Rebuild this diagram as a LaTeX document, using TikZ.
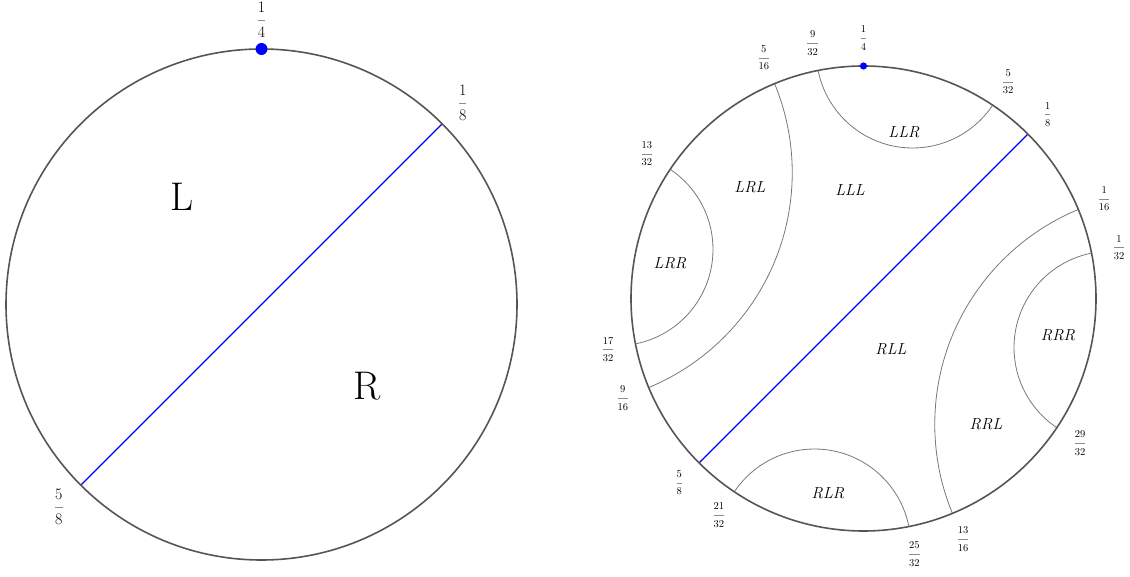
\documentclass[tikz,border=0pt]{standalone}
\usepackage{fontspec}
\usepackage{xcolor}
\definecolor{rim}{RGB}{85,85,85}
\definecolor{geo}{RGB}{120,120,120}
\definecolor{barc}{RGB}{140,140,140}
\newcommand\fr[2]{{\color{barc}\renewcommand\arraystretch{1.3}\begin{tabular}{@{}c@{}}\color{black}#1\\\hline\color{black}#2\end{tabular}}}
\tikzset{
  rimline/.style={draw=rim,line width=1.6pt},
  geoline/.style={draw=geo,line width=0.8pt},
  diam/.style={draw=blue,line width=1.3pt},
  bigfr/.style={inner sep=0pt,font=\fontsize{16}{19}\selectfont},
  smallfr/.style={inner sep=0pt,font=\fontsize{10.5}{13}\selectfont},
  bigletter/.style={font=\fontsize{40}{48}\selectfont},
  word/.style={font=\fontsize{16}{19}\selectfont\itshape}
}
\begin{document}
\begin{tikzpicture}[x=1pt,y=1pt]
\useasboundingbox (0,0) rectangle (1130,576);
% ---------- left disk ----------
\begin{scope}[shift={(261.5,271.5)}]
  \def\R{255.5}
  \coordinate (Lc) at (0,0);
  \coordinate (La) at (45:\R);
  \coordinate (Lb) at (225:\R);
  \draw[diam] (La) -- (Lb);
  \draw[rimline] (Lc) circle (\R);
  \fill[blue] (90:\R) circle (6);
  \node[bigfr] (l14) at (90:\R+29) {\fr{1}{4}};
  \node[bigfr] (l18) at (45:\R+29) {\fr{1}{8}};
  \node[bigfr] (l58) at (225:\R+31) {\fr{5}{8}};
  \node[bigletter] (tL) at (-79.5,107.5) {L};
  \node[bigletter] (tR) at (105.5,-81.5) {R};
\end{scope}
% ---------- right disk ----------
\begin{scope}[shift={(863.5,277.5)}]
  \def\R{232.5}
  \begin{scope}
    \clip (0,0) circle (\R);
    \draw[geoline] (78.75:\R*1.082392) circle (\R*0.414214);
    \draw[geoline] (168.75:\R*1.082392) circle (\R*0.414214);
    \draw[geoline] (258.75:\R*1.082392) circle (\R*0.414214);
    \draw[geoline] (-11.25:\R*1.082392) circle (\R*0.414214);
    \draw[geoline] (157.5:\R*1.414214) circle (\R);
    \draw[geoline] (-22.5:\R*1.414214) circle (\R);
  \end{scope}
  \coordinate (Ra) at (45:\R);
  \coordinate (Rb) at (225:\R);
  \draw[diam] (Ra) -- (Rb);
  \draw[rimline] (0,0) circle (\R);
  \fill[blue] (90:\R) circle (3.6);
  \foreach \ang/\n/\d/\nm in {90/1/4/a,101.25/9/32/b,112.5/5/16/c,56.25/5/32/d,45/1/8/e,146.25/13/32/f,22.5/1/16/g,11.25/1/32/h,191.25/17/32/i,202.5/9/16/j,225/5/8/k,236.25/21/32/l,281.25/25/32/m,292.5/13/16/n,326.25/29/32/o}
    \node[smallfr] (r\nm) at (\ang:\R+28) {\fr{\n}{\d}};
  \node[word] (wLLR) at (40.5,166) {LLR};
  \node[word] (wLRL) at (-113.5,111) {LRL};
  \node[word] (wLLL) at (-13.5,108) {LLL};
  \node[word] (wLRR) at (-193.5,35) {LRR};
  \node[word] (wRLL) at (27.5,-51) {RLL};
  \node[word] (wRRR) at (194.5,-37) {RRR};
  \node[word] (wRRL) at (122.5,-126) {RRL};
  \node[word] (wRLR) at (-35.5,-195) {RLR};
\end{scope}
\end{tikzpicture}
\end{document}
